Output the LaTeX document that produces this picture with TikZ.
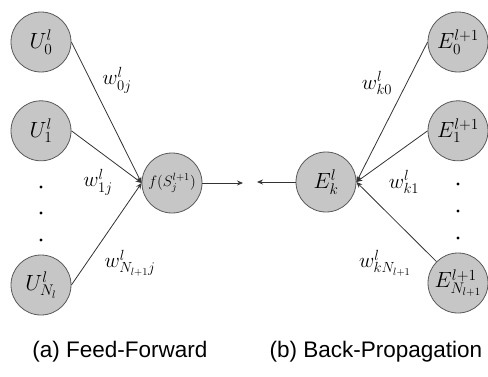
\RequirePackage{fix-cm}
\documentclass[tikz,border=0pt]{standalone}
\usepackage{fontspec}
\setsansfont{Liberation Sans}
\usetikzlibrary{positioning, arrows.meta}

\tikzset{
  neuron/.style={circle, draw=black!65, line width=0.8pt, fill=gray!45, minimum size=60pt, inner sep=0pt, font=\fontsize{22}{24}\selectfont},
  weight/.style={inner sep=0pt, font=\fontsize{21}{23}\selectfont},
  link/.style={-{Stealth[length=6pt, width=5pt]}, black!80, line width=0.8pt},
  caption/.style={font=\sffamily\fontsize{22.5}{26}\selectfont}
}

\begin{document}
\begin{tikzpicture}[x=1pt, y=1pt]
\useasboundingbox (0,0) rectangle (488,376);
% (a) feed-forward
\node(u0)[neuron] at (41,334){$U_0^l$};
\node(u1)[neuron, below = 28pt of u0]{$U_1^l$};
\node(un)[neuron] at (41,91){$U_{N_l}^l$};
\node(f)[neuron, font=\fontsize{15}{17}\selectfont] at (172,193){$f(S_j^{l+1})$};
\coordinate(fout) at (243,193);
\draw[link] (u0.east) -- (f.west);
\draw[link] (u1.east) -- (f.west);
\draw[link] (un.east) -- (f.west);
\draw[link] (f.east) -- (fout);
\node(w0)[weight] at (117,296){$w_{0j}^l$};
\node(w1)[weight] at (98,194){$w_{1j}^l$};
\node(wn)[weight] at (130,113){$w_{N_{l+1}j}^l$};
\foreach \y in {189,163,136} \fill (41,\y) circle (1.6pt);
% (b) back-propagation
\node(e0)[neuron] at (458,334){$E_0^{l+1}$};
\node(e1)[neuron, below = 28pt of e0]{$E_1^{l+1}$};
\node(en)[neuron] at (458,93){$E_{N_{l+1}}^{l+1}$};
\node(ek)[neuron] at (326,194){$E_k^l$};
\coordinate(bout) at (257,194);
\draw[link] (e0.west) -- (ek.east);
\draw[link] (e1.west) -- (ek.east);
\draw[link] (en) -- (ek.east);
\draw[link] (ek.west) -- (bout);
\node(wk0)[weight] at (377,293){$w_{k0}^l$};
\node(wk1)[weight] at (404,194){$w_{k1}^l$};
\node(wkn)[weight] at (385,113){$w_{kN_{l+1}}^l$};
\foreach \y in {192,165,138} \fill (458,\y) circle (1.6pt);
% captions
\node(capa)[caption] at (120,24){(a) Feed-Forward};
\node(capb)[caption] at (376,24){(b) Back-Propagation};
\end{tikzpicture}
\end{document}
